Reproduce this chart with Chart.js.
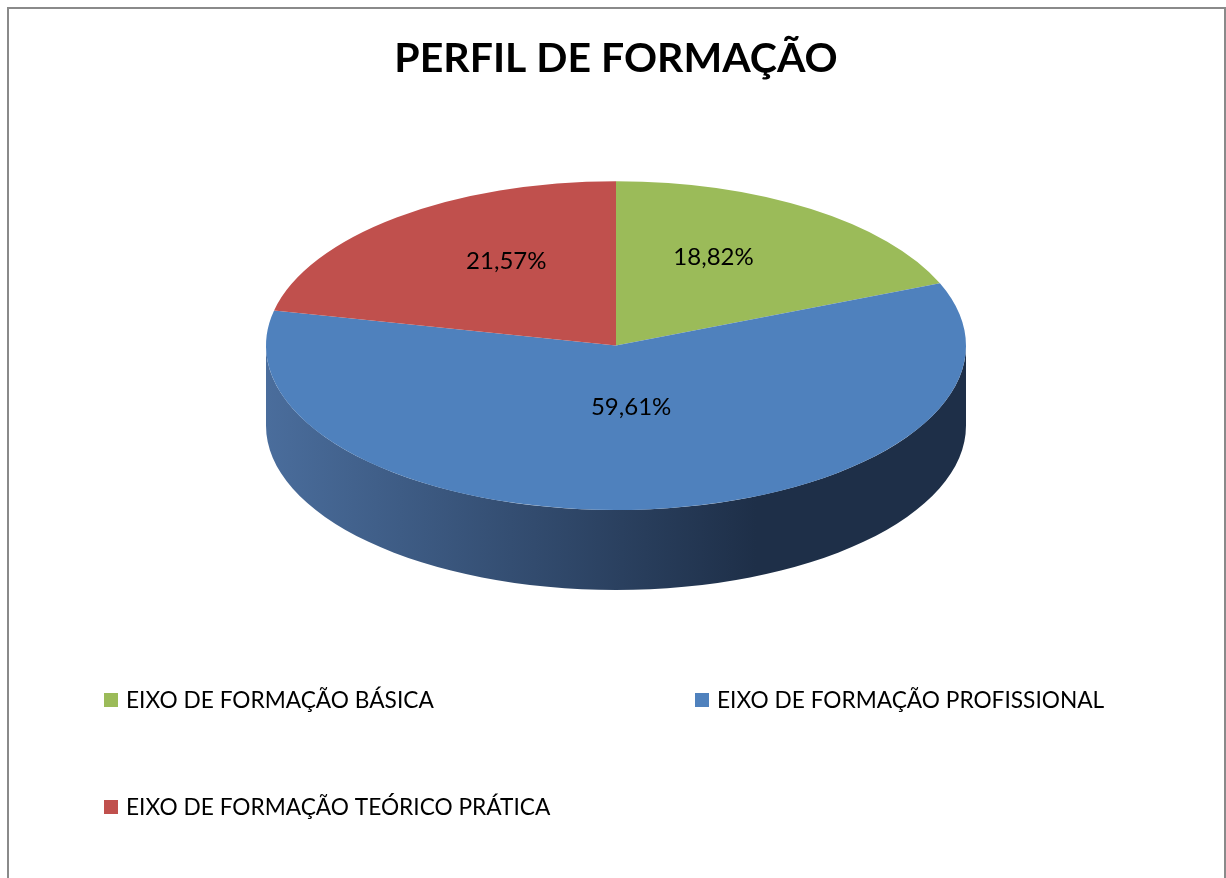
<!DOCTYPE html>
<html lang="pt">
<head>
    <meta charset="UTF-8">
    <title>Perfil de Formação</title>
    <script src="https://cdn.jsdelivr.net/npm/chart.js"></script>
    <style>
        body { margin: 0; background: #fff; overflow: hidden; }
        #frame { position: absolute; left: 7px; top: 7px; width: 1215px; height: 900px; border: 2px solid #8a8a8a; }
        #chart { position: absolute; left: 0; top: 0; }
    </style>
</head>
<body>
    <div id="frame"></div>
    <canvas id="chart" width="1226" height="878"></canvas>
    <script>
        const categories = ['EIXO DE FORMAÇÃO BÁSICA', 'EIXO DE FORMAÇÃO PROFISSIONAL', 'EIXO DE FORMAÇÃO TEÓRICO PRÁTICA'];
        const percentages = [18.82, 59.61, 21.57];
        const sliceColors = ['#9BBB59', '#4F81BD', '#C0504D'];
        const sideColors = [['#7d9a45', '#4f6329'], ['#4a6d9c', '#1e2f48'], ['#9c3e3b', '#5c2321']];

        const depth = 80;

        // tilt the pie into an ellipse and draw the visible rim below it
        const tiltPie = {
            id: 'tiltPie',
            beforeDatasetsDraw(chart) {
                const ctx = chart.ctx;
                const area = chart.chartArea;
                const arcs = chart.getDatasetMeta(0).data;
                if (!arcs.length) return;
                const cx = arcs[0].x, cy = arcs[0].y, r = arcs[0].outerRadius;
                const sx = (area.width / 2) / r;
                chart.$tilt = { cx, cy, sx };

                arcs.forEach((arc, i) => {
                    [0, -2 * Math.PI, 2 * Math.PI].forEach(shift => {
                        const lo = Math.max(arc.startAngle + shift, 0);
                        const hi = Math.min(arc.endAngle + shift, Math.PI);
                        if (hi <= lo) return;
                        const g = ctx.createLinearGradient(cx - r * sx, 0, cx + r * sx, 0);
                        g.addColorStop(0, sideColors[i][0]);
                        g.addColorStop(0.7, sideColors[i][1]);
                        g.addColorStop(1, sideColors[i][1]);
                        ctx.save();
                        ctx.beginPath();
                        ctx.ellipse(cx, cy, r * sx, r, 0, lo, hi);
                        ctx.ellipse(cx, cy + depth, r * sx, r, 0, hi, lo, true);
                        ctx.closePath();
                        ctx.fillStyle = g;
                        ctx.fill();
                        ctx.restore();
                    });
                });

                ctx.save();
                ctx.translate(cx, cy);
                ctx.scale(sx, 1);
                ctx.translate(-cx, -cy);
            },
            afterDatasetsDraw(chart) {
                const ctx = chart.ctx;
                ctx.restore();
                const t = chart.$tilt;
                if (!t) return;
                const arcs = chart.getDatasetMeta(0).data;
                ctx.save();
                ctx.font = '24px Lato';
                ctx.fillStyle = '#000';
                ctx.textAlign = 'center';
                ctx.textBaseline = 'middle';
                arcs.forEach((arc, i) => {
                    const p = arc.tooltipPosition();
                    const x = t.cx + (p.x - t.cx) * t.sx;
                    ctx.fillText(percentages[i].toFixed(2).replace('.', ',') + '%', x, p.y - 20);
                });
                ctx.restore();
            },
            afterDraw(chart) {
                const ctx = chart.ctx;
                const cols = [104, 695];
                const rows = [700, 807];
                ctx.save();
                ctx.font = '22.7px Lato';
                ctx.textBaseline = 'middle';
                categories.forEach((label, i) => {
                    const x = cols[i % 2], y = rows[Math.floor(i / 2)];
                    ctx.fillStyle = sliceColors[i];
                    ctx.fillRect(x, y - 7, 14, 14);
                    ctx.fillStyle = '#000';
                    ctx.fillText(label, x + 22, y + 1);
                });
                ctx.restore();
            }
        };

        new Chart(document.getElementById('chart'), {
            type: 'pie',
            data: {
                labels: categories,
                datasets: [{
                    data: percentages,
                    backgroundColor: sliceColors,
                    borderWidth: 0,
                    hoverOffset: 0
                }]
            },
            options: {
                responsive: false,
                animation: false,
                events: [],
                layout: { padding: { left: 266, right: 260, top: 0, bottom: 368 } },
                plugins: {
                    legend: { display: false },
                    tooltip: { enabled: false },
                    title: {
                        display: true,
                        text: 'PERFIL DE FORMAÇÃO',
                        color: '#000',
                        font: { family: 'Lato', size: 41, weight: 'bold' },
                        padding: { top: 34, bottom: 98 }
                    }
                }
            },
            plugins: [tiltPie]
        });
    </script>
</body>
</html>
